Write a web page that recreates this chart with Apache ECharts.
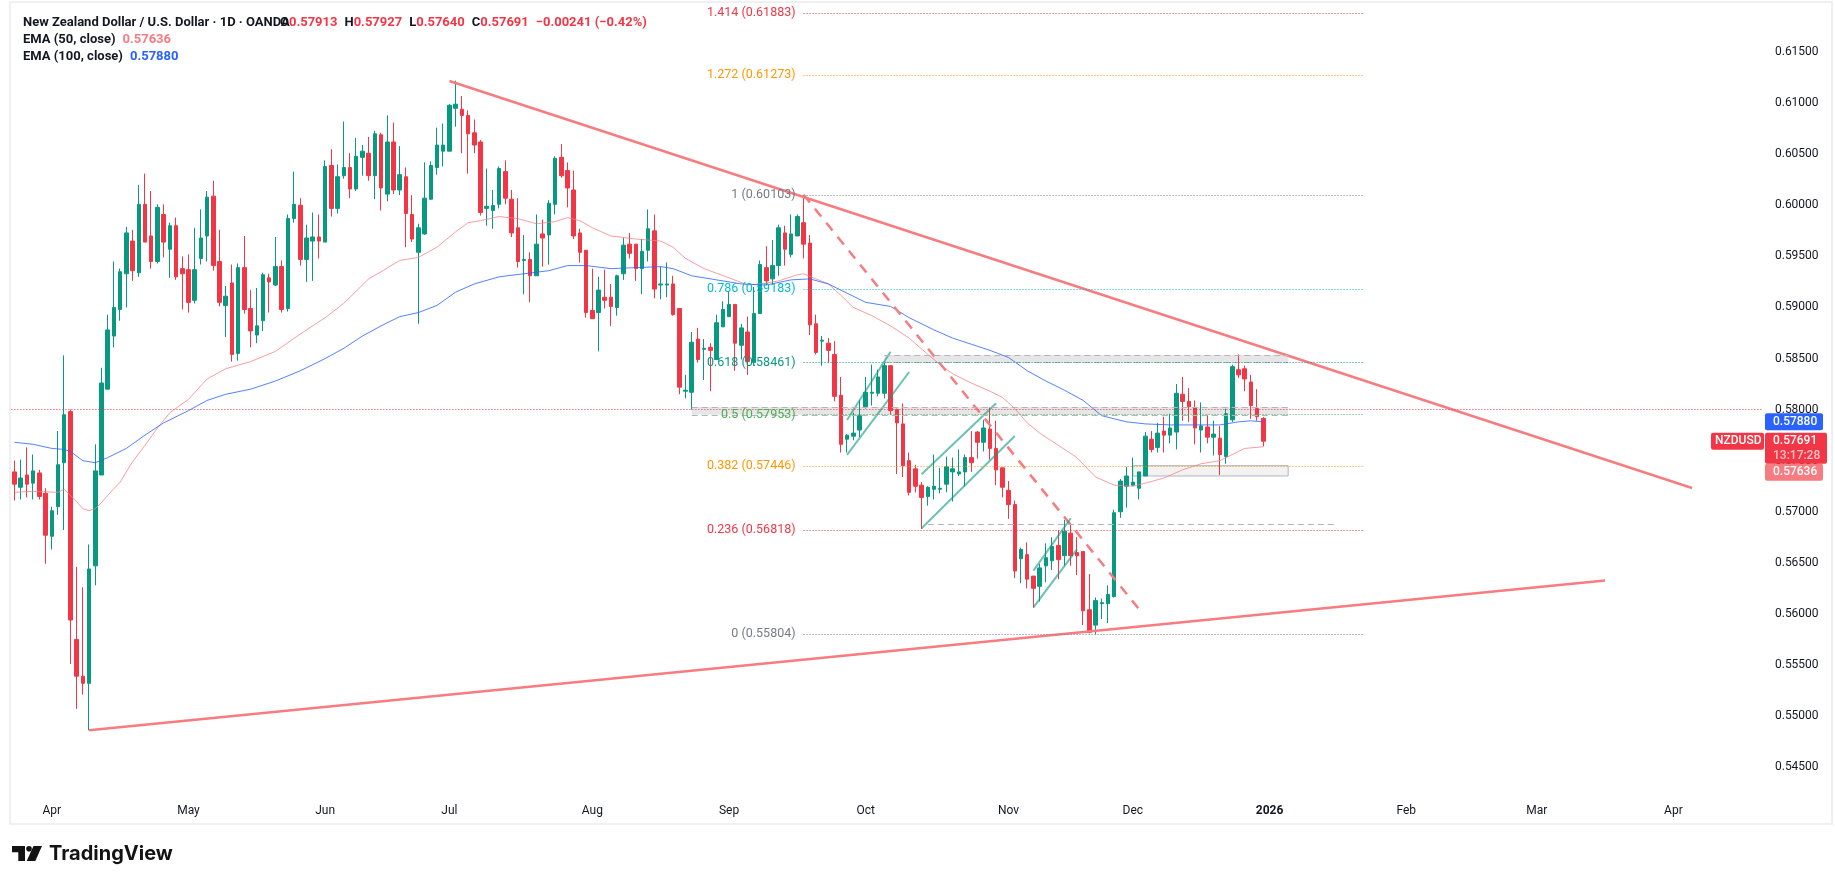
<!DOCTYPE html>
<html>
<head>
<meta charset="utf-8">
<title>NZDUSD</title>
<script src="https://cdn.jsdelivr.net/npm/echarts@6/dist/echarts.min.js"></script>
<style>
  html, body { margin: 0; padding: 0; background: #fff; }
  #chart { width: 1835px; height: 884px; }
</style>
</head>
<body>
<div id="chart"></div>
<script>
const opens = [
  0.5739,0.5724,0.5736,0.5728,0.5738,0.5718,0.5676,0.5705,0.5748,0.5798,
  0.5575,0.5539,0.5532,0.5647,0.5736,0.5820,0.5872,0.5898,0.5933,0.5965,
  0.5934,0.6001,0.5970,0.5945,0.5991,0.5957,0.5980,0.5938,0.5937,0.5907,
  0.5948,0.5970,0.6009,0.5945,0.5902,0.5924,0.5855,0.5939,0.5899,0.5873,
  0.5887,0.5929,0.5922,0.5940,0.5899,0.5987,0.6000,0.5947,0.5965,0.5969,
  0.5964,0.6039,0.5997,0.6029,0.6037,0.6016,0.6047,0.6051,0.6029,0.6069,
  0.6011,0.6062,0.6015,0.6028,0.5991,0.5954,0.5972,0.6006,0.6037,0.6053,
  0.6053,0.6095,0.6094,0.6088,0.6071,0.6062,0.5997,0.5995,0.6001,0.6033,
  0.6006,0.5978,0.5946,0.5947,0.5931,0.5972,0.5971,0.6001,0.6047,0.6034,
  0.6015,0.5973,0.5956,0.5897,0.5895,0.5910,0.5910,0.5900,0.5933,0.5962,
  0.5962,0.5938,0.5956,0.5975,0.5922,0.5922,0.5923,0.5899,0.5818,0.5817,
  0.5869,0.5859,0.5861,0.5849,0.5881,0.5891,0.5903,0.5863,0.5876,0.5846,
  0.5894,0.5939,0.5928,0.5941,0.5973,0.5952,0.5970,0.5983,0.5963,0.5884,
  0.5867,0.5865,0.5854,0.5814,0.5771,0.5774,0.5780,0.5803,0.5816,0.5816,
  0.5816,0.5843,0.5800,0.5786,0.5750,0.5742,0.5726,0.5715,0.5722,0.5722,
  0.5727,0.5739,0.5737,0.5739,0.5753,0.5778,0.5768,0.5781,0.5762,0.5743,
  0.5721,0.5707,0.5654,0.5658,0.5637,0.5627,0.5647,0.5652,0.5667,0.5657,
  0.5679,0.5660,0.5661,0.5604,0.5589,0.5610,0.5610,0.5617,0.5700,0.5725,
  0.5726,0.5723,0.5735,0.5771,0.5763,0.5779,0.5775,0.5778,0.5815,0.5808,
  0.5802,0.5780,0.5783,0.5773,0.5772,0.5754,0.5790,0.5839,0.5840,0.5827,
  0.5801,0.57913
];
const highs = [
  0.5750,0.5751,0.5763,0.5756,0.5741,0.5723,0.5705,0.5779,0.5853,0.5800,
  0.5646,0.5626,0.5668,0.5766,0.5841,0.5893,0.5945,0.5938,0.5979,0.5976,
  0.6020,0.6031,0.6014,0.6001,0.6001,0.5983,0.5988,0.5950,0.5952,0.5978,
  0.5996,0.6014,0.6024,0.5976,0.5921,0.5942,0.5943,0.5970,0.5917,0.5919,
  0.5934,0.5933,0.5969,0.5946,0.5991,0.6033,0.6007,0.5981,0.5993,0.5991,
  0.6044,0.6055,0.6040,0.6082,0.6051,0.6066,0.6059,0.6067,0.6073,0.6071,
  0.6088,0.6081,0.6058,0.6037,0.6010,0.5982,0.6042,0.6043,0.6076,0.6080,
  0.6099,0.6122,0.6107,0.6093,0.6084,0.6064,0.6036,0.6015,0.6038,0.6044,
  0.6015,0.6007,0.5971,0.5954,0.5991,0.5986,0.6005,0.6048,0.6060,0.6042,
  0.6034,0.5977,0.5956,0.5938,0.5930,0.5937,0.5923,0.5932,0.5968,0.5973,
  0.5962,0.5967,0.5996,0.5991,0.5940,0.5944,0.5931,0.5899,0.5834,0.5876,
  0.5880,0.5869,0.5865,0.5893,0.5906,0.5915,0.5903,0.5884,0.5891,0.5920,
  0.5946,0.5960,0.5966,0.5981,0.5980,0.5991,0.5991,0.6009,0.5971,0.5893,
  0.5872,0.5870,0.5867,0.5832,0.5776,0.5797,0.5809,0.5832,0.5844,0.5839,
  0.5847,0.5843,0.5801,0.5806,0.5758,0.5746,0.5729,0.5725,0.5756,0.5743,
  0.5754,0.5753,0.5761,0.5756,0.5779,0.5779,0.5790,0.5802,0.5789,0.5743,
  0.5730,0.5711,0.5665,0.5670,0.5637,0.5649,0.5669,0.5675,0.5682,0.5692,
  0.5689,0.5675,0.5661,0.5639,0.5616,0.5615,0.5628,0.5702,0.5732,0.5744,
  0.5753,0.5739,0.5778,0.5779,0.5787,0.5793,0.5796,0.5825,0.5832,0.5821,
  0.5809,0.5807,0.5795,0.5789,0.5784,0.5801,0.5844,0.5854,0.5843,0.5834,
  0.5820,0.57927
];
const lows = [
  0.5711,0.5712,0.5714,0.5712,0.5712,0.5649,0.5663,0.5697,0.5682,0.5551,
  0.5507,0.5521,0.5486,0.5628,0.5736,0.5820,0.5861,0.5887,0.5900,0.5926,
  0.5930,0.5964,0.5938,0.5943,0.5949,0.5929,0.5927,0.5898,0.5895,0.5904,
  0.5942,0.5945,0.5936,0.5901,0.5871,0.5847,0.5848,0.5894,0.5861,0.5865,
  0.5877,0.5895,0.5921,0.5895,0.5896,0.5983,0.5941,0.5925,0.5926,0.5948,
  0.5964,0.5989,0.5992,0.6026,0.6007,0.6014,0.6029,0.6024,0.6006,0.5995,
  0.6004,0.6011,0.6010,0.5959,0.5964,0.5884,0.5971,0.6005,0.6030,0.6038,
  0.6053,0.6077,0.6051,0.6031,0.6051,0.5990,0.5980,0.5977,0.5997,0.6001,
  0.5969,0.5939,0.5913,0.5905,0.5931,0.5940,0.5942,0.5991,0.6027,0.5998,
  0.5967,0.5944,0.5890,0.5889,0.5857,0.5899,0.5882,0.5892,0.5927,0.5948,
  0.5926,0.5913,0.5945,0.5909,0.5908,0.5910,0.5892,0.5815,0.5811,0.5800,
  0.5846,0.5829,0.5818,0.5849,0.5881,0.5891,0.5838,0.5849,0.5834,0.5843,
  0.5894,0.5922,0.5923,0.5931,0.5941,0.5949,0.5970,0.5948,0.5873,0.5854,
  0.5843,0.5846,0.5808,0.5758,0.5758,0.5770,0.5773,0.5801,0.5804,0.5813,
  0.5811,0.5795,0.5737,0.5734,0.5716,0.5719,0.5683,0.5706,0.5712,0.5718,
  0.5719,0.5710,0.5735,0.5725,0.5739,0.5752,0.5759,0.5751,0.5726,0.5714,
  0.5693,0.5635,0.5630,0.5625,0.5606,0.5612,0.5631,0.5643,0.5634,0.5647,
  0.5647,0.5638,0.5589,0.5581,0.5580,0.5595,0.5591,0.5616,0.5694,0.5704,
  0.5725,0.5712,0.5735,0.5758,0.5758,0.5758,0.5767,0.5761,0.5789,0.5788,
  0.5766,0.5758,0.5767,0.5755,0.5736,0.5747,0.5788,0.5831,0.5818,0.5791,
  0.5789,0.5764
];
const closes = [
  0.5727,0.5733,0.5727,0.5740,0.5715,0.5677,0.5701,0.5746,0.5795,0.5594,
  0.5539,0.5532,0.5644,0.5740,0.5826,0.5878,0.5900,0.5935,0.5973,0.5936,
  0.6001,0.5964,0.5945,0.5998,0.5964,0.5980,0.5930,0.5933,0.5905,0.5937,
  0.5968,0.6008,0.5941,0.5905,0.5911,0.5854,0.5939,0.5898,0.5877,0.5882,
  0.5932,0.5925,0.5940,0.5898,0.5987,0.6001,0.5947,0.5968,0.5969,0.5965,
  0.6038,0.5997,0.6028,0.6037,0.6016,0.6048,0.6053,0.6029,0.6070,0.6017,
  0.6062,0.6015,0.6030,0.5992,0.5967,0.5978,0.6007,0.6039,0.6059,0.6059,
  0.6098,0.6099,0.6088,0.6070,0.6059,0.5993,0.5999,0.6000,0.6036,0.6007,
  0.5973,0.5945,0.5947,0.5931,0.5962,0.5968,0.6002,0.6046,0.6029,0.6017,
  0.5970,0.5954,0.5895,0.5889,0.5917,0.5907,0.5901,0.5931,0.5961,0.5953,
  0.5938,0.5955,0.5977,0.5918,0.5923,0.5923,0.5893,0.5822,0.5819,0.5866,
  0.5849,0.5860,0.5858,0.5885,0.5898,0.5903,0.5865,0.5880,0.5847,0.5894,
  0.5942,0.5926,0.5941,0.5978,0.5957,0.5972,0.5989,0.5962,0.5883,0.5856,
  0.5868,0.5858,0.5813,0.5766,0.5775,0.5777,0.5794,0.5817,0.5817,0.5832,
  0.5843,0.5799,0.5787,0.5745,0.5719,0.5725,0.5714,0.5724,0.5725,0.5723,
  0.5744,0.5742,0.5739,0.5753,0.5748,0.5768,0.5782,0.5762,0.5741,0.5724,
  0.5707,0.5642,0.5663,0.5634,0.5625,0.5645,0.5655,0.5666,0.5653,0.5681,
  0.5657,0.5657,0.5603,0.5582,0.5613,0.5611,0.5619,0.5699,0.5730,0.5735,
  0.5729,0.5739,0.5774,0.5761,0.5777,0.5775,0.5782,0.5816,0.5808,0.5803,
  0.5782,0.5784,0.5773,0.5776,0.5756,0.5796,0.5842,0.5834,0.5830,0.5804,
  0.5793,0.57691
];

// EMA lines at these bars
const ema50Bars = [0,3,7,8,10,11,12,13,14,15,17,19,21,23,25,28,31,34,38,42,46,50,53,55,57,59,62,65,68,71,73,75,78,81,84,87,89,91,93,96,100,104,106,108,111,115,118,120,123,126,127,129,131,133,135,138,141,144,147,149,151,154,157,159,161,163,165,168,171,174,177,180,182,185,188,191,194,196,198,201];
const ema50Values = [0.5719,0.5720,0.5719,0.5722,0.5710,0.5703,0.5701,0.5703,0.5709,0.5716,0.5729,0.5749,0.5765,0.5782,0.5797,0.5810,0.5830,0.5840,0.5847,0.5857,0.5874,0.5890,0.5904,0.5916,0.5928,0.5935,0.5946,0.5949,0.5959,0.5974,0.5983,0.5985,0.5989,0.5987,0.5982,0.5984,0.5988,0.5985,0.5978,0.5970,0.5967,0.5965,0.5959,0.5948,0.5938,0.5929,0.5922,0.5923,0.5926,0.5932,0.5933,0.5928,0.5923,0.5912,0.5900,0.5892,0.5882,0.5870,0.5854,0.5844,0.5835,0.5826,0.5818,0.5812,0.5801,0.5787,0.5777,0.5765,0.5753,0.5734,0.5726,0.5725,0.5728,0.5733,0.5741,0.5747,0.5750,0.5756,0.5762,0.57636];
const ema100Bars = [0,3,6,8,9,11,13,15,18,21,24,28,31,34,38,42,46,50,53,56,59,62,65,68,71,74,78,82,86,89,92,96,100,104,106,109,113,117,121,125,128,131,134,137,141,144,148,151,154,157,160,163,166,169,172,175,177,179,182,186,190,194,197,199,201];
const ema100Values = [0.5768,0.5766,0.5762,0.5761,0.5759,0.5750,0.5748,0.5753,0.5762,0.5775,0.5787,0.5799,0.5809,0.5815,0.5820,0.5828,0.5838,0.5850,0.5860,0.5872,0.5882,0.5891,0.5895,0.5902,0.5915,0.5923,0.5930,0.5933,0.5936,0.5941,0.5941,0.5938,0.5939,0.5940,0.5938,0.5931,0.5927,0.5923,0.5922,0.5927,0.5928,0.5923,0.5914,0.5905,0.5901,0.5890,0.5878,0.5870,0.5864,0.5858,0.5851,0.5838,0.5828,0.5819,0.5809,0.5794,0.5791,0.5788,0.5786,0.5785,0.5785,0.5785,0.5788,0.5789,0.57880];

const monthBars = [6,28,50,70,93,115,137,160,180,202,224,245,267];
const monthLabels = ["Apr","May","Jun","Jul","Aug","Sep","Oct","Nov","Dec","2026","Feb","Mar","Apr"];

const fibLevels = ["1.414","1.272","1","0.786","0.618","0.5","0.382","0.236","0"];
const fibPrices = [0.61883,0.61273,0.60103,0.59183,0.58461,0.57953,0.57446,0.56818,0.55804];
const fibStartBar = 127;
const fibEndBar = 217;

// drawings: [bar, price, bar, price]
const trendLines = [[70,0.61217,270,0.57232],[12,0.5486,256,0.56326]];
const dashedTrend = [127,0.60103,181,0.56045];
const channels = [
  [134,0.57898,141,0.58567],[134,0.57556,144,0.58368],
  [146,0.57367,158,0.58062],[146,0.56838,161,0.57742],
  [164,0.56423,170,0.56936],[164,0.56064,171,0.56632]
];
const zones = [[140,0.58535,205,0.58459],[109,0.58025,205,0.57949]];
const box = [180,0.57451,205,0.5735];
const dashedLevel = [147,0.56877,213];

const lastPrice = 0.57691;
const lastEma50 = 0.57636;
const lastEma100 = 0.5788;
const countdown = "13:17:28";

const BAR_COUNT = 282;
const UP = "#089981", DOWN = "#f23645", PINK = "#f77c80", BLUE = "#2962ff";
const INK = "#131722";
const FONT = "Roboto";
const fibColors = [DOWN,"#ff9800","#787b86","#00bcd4",UP,"#4caf50","#ff9800",DOWN,"#787b86"];

const categories = new Array(BAR_COUNT).fill("");
monthBars.forEach((b, i) => { categories[b] = monthLabels[i]; });

const candleData = opens.map((o, i) => [o, closes[i], lows[i], highs[i]]);

const sparse = (bars, values) => {
  const out = new Array(bars[bars.length - 1] + 1).fill(null);
  bars.forEach((b, i) => { out[b] = values[i]; });
  return out;
};

const segment = (s, style) => [
  { coord: [s[0], s[1]], lineStyle: style },
  { coord: [s[2], s[3]] },
];

const trendStyle = { color: PINK, width: 2.5, type: "solid", opacity: 1 };
const channelStyle = { color: UP, width: 2, type: "solid", opacity: 0.6 };
const fibLines = fibLevels.map((lv, i) => [
  {
    name: lv + " (" + fibPrices[i].toFixed(5) + ")",
    coord: [fibStartBar, fibPrices[i]],
    lineStyle: { color: fibColors[i], width: 1, type: [1, 2], opacity: 1 },
    label: { show: true, color: fibColors[i] },
  },
  { coord: [fibEndBar, fibPrices[i]] },
]);
const edgeStyle = { color: "#b2b5be", width: 1, type: [6, 4], opacity: 1 };

const option = {
  animation: false,
  backgroundColor: "#fff",
  textStyle: { fontFamily: FONT },
  title: [
    {
      left: 18, top: 9,
      text:
        "{n|New Zealand Dollar / U.S. Dollar · 1D · OANDA}" +
        "{k|O}{v|0.57913}{g|}{k|H}{v|0.57927}{g|}{k|L}{v|0.57640}{g|}{k|C}{v|0.57691}{g|}{v|−0.00241 (−0.42%)}",
      textStyle: {
        rich: {
          n: { fontFamily: FONT, fontSize: 13, color: INK, width: 257 },
          k: { fontFamily: FONT, fontSize: 13, color: INK },
          v: { fontFamily: FONT, fontSize: 13, color: DOWN },
          g: { width: 7 },
        },
      },
    },
    {
      left: 18, top: 26,
      text: "{n|EMA (50, close)}{g|}{v|0.57636}",
      textStyle: {
        rich: {
          n: { fontFamily: FONT, fontSize: 13, color: INK },
          v: { fontFamily: FONT, fontSize: 13, color: PINK },
          g: { width: 7 },
        },
      },
    },
    {
      left: 18, top: 43,
      text: "{n|EMA (100, close)}{g|}{v|0.57880}",
      textStyle: {
        rich: {
          n: { fontFamily: FONT, fontSize: 13, color: INK },
          v: { fontFamily: FONT, fontSize: 13, color: BLUE },
          g: { width: 7 },
        },
      },
    },
  ],
  grid: { left: 11.4, top: 1.04, width: 1752.07, height: 817.12, containLabel: false },
  xAxis: {
    type: "category",
    data: categories,
    axisLine: { show: false },
    axisTick: { show: false },
    splitLine: { show: false },
    axisLabel: {
      inside: true,
      interval: 0,
      margin: 1,
      hideOverlap: false,
      fontFamily: FONT,
      fontSize: 12,
      color: INK,
      formatter: (v) => (v === "2026" ? "{b|2026}" : v),
      rich: { b: { fontFamily: FONT, fontSize: 12, fontWeight: "bold", color: INK } },
    },
  },
  yAxis: {
    type: "value",
    position: "right",
    min: 0.54,
    max: 0.62,
    interval: 0.005,
    scale: true,
    axisLine: { show: false },
    axisTick: { show: false },
    splitLine: { show: false },
    axisLabel: {
      showMinLabel: false,
      showMaxLabel: false,
      margin: 11.5,
      fontFamily: FONT,
      fontSize: 12,
      color: INK,
      formatter: (v) => v.toFixed(5),
    },
  },
  series: [
    {
      name: "Zones",
      type: "line",
      data: [],
      silent: true,
      markArea: {
        silent: true,
        z: 1,
        data: [
          ...zones.map((s) => [
            { coord: [s[0], s[1]], itemStyle: { color: "#e6e6e6" } },
            { coord: [s[2], s[3]] },
          ]),
          [
            { coord: [box[0], box[1]], itemStyle: { color: "#f2f2f2", borderColor: "#b2b5be", borderWidth: 1 } },
            { coord: [box[2], box[3]] },
          ],
        ],
      },
    },
    {
      name: "NZDUSD",
      type: "candlestick",
      data: candleData,
      barWidth: 4,
      silent: true,
      itemStyle: {
        color: UP,
        color0: DOWN,
        borderColor: UP,
        borderColor0: DOWN,
        borderWidth: 1,
      },
    },
    {
      name: "EMA 50",
      type: "line",
      data: sparse(ema50Bars, ema50Values),
      connectNulls: true,
      showSymbol: false,
      silent: true,
      lineStyle: { color: PINK, width: 1, opacity: 0.75 },
    },
    {
      name: "EMA 100",
      type: "line",
      data: sparse(ema100Bars, ema100Values),
      connectNulls: true,
      showSymbol: false,
      silent: true,
      lineStyle: { color: BLUE, width: 1, opacity: 0.8 },
    },
    {
      name: "Drawings",
      type: "line",
      data: [],
      silent: true,
      markLine: {
        silent: true,
        symbol: "none",
        animation: false,
        label: { show: false },
        data: [
          ...trendLines.map((s) => segment(s, trendStyle)),
          segment(dashedTrend, { color: PINK, width: 2.5, type: [10, 8], opacity: 1 }),
          ...channels.map((s) => segment(s, channelStyle)),
          ...zones.flatMap((s) => [
            segment([s[0], s[1], s[2], s[1]], edgeStyle),
            segment([s[0], s[3], s[2], s[3]], edgeStyle),
          ]),
          segment([dashedLevel[0], dashedLevel[1], dashedLevel[2], dashedLevel[1]], edgeStyle),
          {
            yAxis: lastPrice,
            lineStyle: { color: DOWN, width: 1, type: [1, 2], opacity: 1 },
          },
        ],
      },
    },
    {
      name: "Fibonacci",
      type: "line",
      data: [],
      silent: true,
      markLine: {
        silent: true,
        symbol: "none",
        animation: false,
        label: {
          position: "start",
          formatter: "{b}",
          fontFamily: FONT,
          fontSize: 12.5,
          distance: 8,
        },
        data: fibLines,
      },
    },
  ],
};

const chart = echarts.init(document.getElementById("chart"), null, { renderer: "canvas" });
chart.setOption(option);

const priceTag = (price, color, left, right, h, text) => {
  const y = chart.convertToPixel({ yAxisIndex: 0 }, price);
  return [
    { type: "rect", z: 50, shape: { x: left, y: y - h / 2, width: right - left, height: h, r: 2 }, style: { fill: color } },
    {
      type: "text", z: 51, x: left + 8, y: y,
      style: { text: text, fill: "#fff", fontFamily: FONT, fontSize: 12, fontWeight: 500, verticalAlign: "middle" },
    },
  ];
};

const lastY = chart.convertToPixel({ yAxisIndex: 0 }, lastPrice);

chart.setOption({
  graphic: [
    // chart frame
    { type: "rect", z: 40, shape: { x: 10, y: 2, width: 1822, height: 822 }, style: { fill: "none", stroke: "#f0f0f0", lineWidth: 2 } },
    ...priceTag(lastEma100, BLUE, 1765, 1823, 17, "0.57880"),
    // last price + countdown
    { type: "rect", z: 50, shape: { x: 1765, y: lastY - 8.5, width: 62, height: 31, r: 2 }, style: { fill: DOWN } },
    { type: "text", z: 51, x: 1773, y: lastY, style: { text: "0.57691", fill: "#fff", fontFamily: FONT, fontSize: 12, fontWeight: 500, verticalAlign: "middle" } },
    { type: "text", z: 51, x: 1773, y: lastY + 15, style: { text: countdown, fill: "#fbc4c9", fontFamily: FONT, fontSize: 12, fontWeight: 500, verticalAlign: "middle" } },
    { type: "rect", z: 50, shape: { x: 1711, y: lastY - 8.5, width: 53, height: 17, r: 2 }, style: { fill: DOWN } },
    { type: "text", z: 51, x: 1715, y: lastY, style: { text: "NZDUSD", fill: "#fff", fontFamily: FONT, fontSize: 12, fontWeight: 500, verticalAlign: "middle" } },
    { type: "rect", z: 49, shape: { x: 1765, y: lastY + 22.5, width: 58, height: 17, r: 2 }, style: { fill: PINK } },
    { type: "text", z: 51, x: 1773, y: lastY + 31, style: { text: "0.57636", fill: "#fff", fontFamily: FONT, fontSize: 12, fontWeight: 500, verticalAlign: "middle" } },
    // TradingView logo
    { type: "polygon", z: 50, shape: { points: [[12,846],[25,846],[25,861],[18.3,861],[18.3,852.3],[12,852.3]] }, style: { fill: "#131313" } },
    { type: "circle", z: 50, shape: { cx: 29, cy: 848.8, r: 2.8 }, style: { fill: "#131313" } },
    { type: "polygon", z: 50, shape: { points: [[33.5,846],[42,846],[35.3,861],[26.7,861]] }, style: { fill: "#131313" } },
    { type: "text", z: 50, x: 49, y: 853.5, style: { text: "TradingView", fill: "#131313", fontFamily: "Inter", fontSize: 20, fontWeight: 700, verticalAlign: "middle" } },
  ],
});

window.addEventListener("resize", () => {
  chart.resize();
});
</script>
</body>
</html>
